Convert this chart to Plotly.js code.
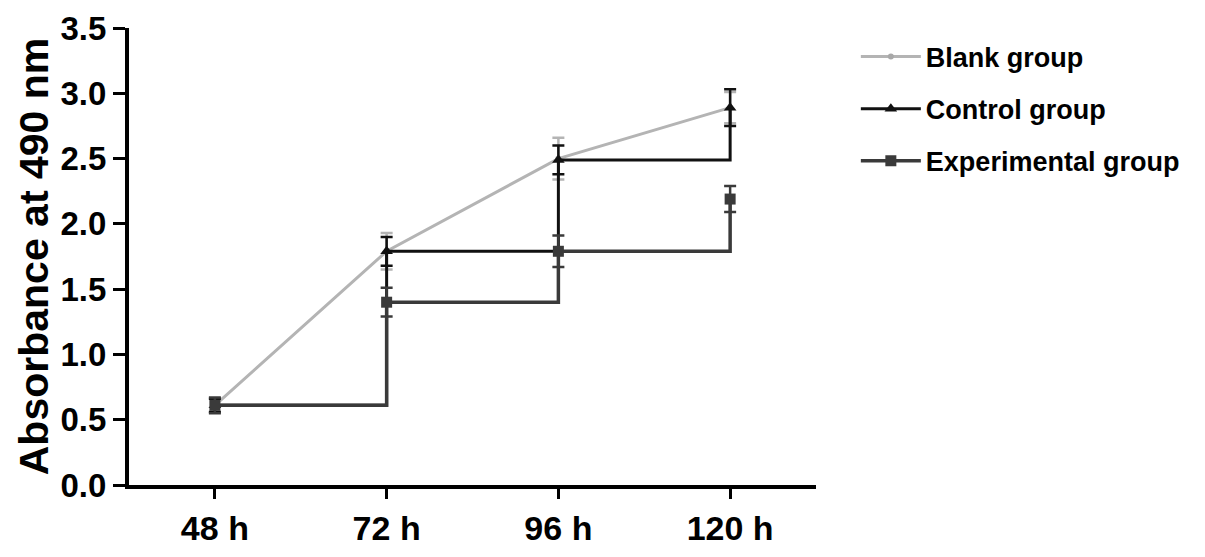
<!DOCTYPE html>
<html>
<head>
<meta charset="utf-8">
<script src="https://cdn.plot.ly/plotly-3.0.1.min.js"></script>
<style>
  body { margin: 0; background: #fff; }
  #chart { width: 1205px; height: 557px; }
</style>
</head>
<body>
<div id="chart"></div>
<script>
var times = ["48 h", "72 h", "96 h", "120 h"];

var blank = [0.61, 1.79, 2.50, 2.89];
var blankErr = [0.05, 0.14, 0.16, 0.12];

var control = [0.61, 1.79, 2.49, 2.89];
var controlErr = [0.05, 0.11, 0.11, 0.14];

var experimental = [0.61, 1.40, 1.79, 2.19];
var experimentalErr = [0.06, 0.11, 0.12, 0.10];

var yTicks = [0, 0.5, 1, 1.5, 2, 2.5, 3, 3.5];
var yTickText = ["0.0", "0.5", "1.0", "1.5", "2.0", "2.5", "3.0", "3.5"];

var fnt = "Liberation Sans, Arial, sans-serif";

var data = [
  {
    x: times, y: blank, name: "Blank group", legendgroup: "a",
    type: "scatter", mode: "lines+markers",
    line: {color: "#b4b4b4", width: 3},
    marker: {color: "#a8a8a8", size: 6, symbol: "circle"},
    error_y: {type: "data", array: blankErr, color: "#b4b4b4", thickness: 2.5, width: 6}
  },
  {
    x: times, y: control, name: "Control group", legendgroup: "b",
    type: "scatter", mode: "lines+markers",
    line: {color: "#111111", width: 3, shape: "hv"},
    marker: {color: "#111111", size: 11, symbol: "triangle-up"},
    error_y: {type: "data", array: controlErr, color: "#111111", thickness: 2.5, width: 6}
  },
  {
    x: times, y: experimental, name: "Experimental group", legendgroup: "c",
    type: "scatter", mode: "lines+markers",
    line: {color: "#3a3a3a", width: 3.5, shape: "hv"},
    marker: {color: "#3a3a3a", size: 11, symbol: "square"},
    error_y: {type: "data", array: experimentalErr, color: "#3a3a3a", thickness: 2.5, width: 6}
  }
];

var layout = {
  width: 1205,
  height: 557,
  paper_bgcolor: "#fff",
  plot_bgcolor: "#fff",
  showlegend: true,
  margin: {l: 129, r: 389, t: 28, b: 72, pad: 0},
  xaxis: {
    type: "category",
    range: [-0.5, 3.5],
    showline: true, linecolor: "#000", linewidth: 4,
    ticks: "outside", ticklen: 10, tickwidth: 3, tickcolor: "#000",
    showgrid: false, zeroline: false,
    tickfont: {family: fnt, size: 34, color: "#000", weight: "bold"}
  },
  yaxis: {
    range: [0, 3.5],
    tickvals: yTicks, ticktext: yTickText,
    showline: true, linecolor: "#000", linewidth: 4,
    ticks: "outside", ticklen: 12, tickwidth: 3, tickcolor: "#000",
    showgrid: false, zeroline: false,
    tickfont: {family: fnt, size: 33, color: "#000", weight: "bold"},
    title: {text: "Absorbance at 490 nm", standoff: 0,
            font: {family: fnt, size: 41, color: "#000", weight: "bold"}}
  },
  legend: {
    x: 1.058, y: 0.99, xanchor: "left", yanchor: "top",
    itemwidth: 60,
    tracegroupgap: 14,
    font: {family: fnt, size: 27, color: "#000", weight: "bold"},
    bgcolor: "rgba(0,0,0,0)"
  }
};

Plotly.newPlot("chart", data, layout, {displayModeBar: false});
</script>
</body>
</html>
